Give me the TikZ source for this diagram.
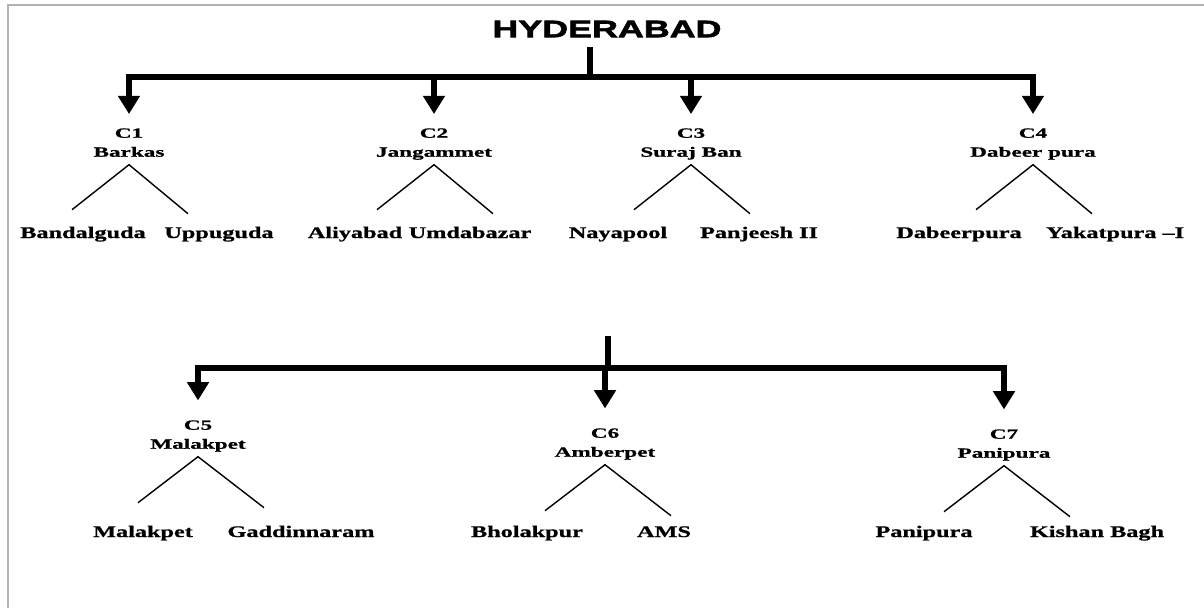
\documentclass[tikz,border=0pt]{standalone}
\usepackage{fontspec}
\usetikzlibrary{arrows.meta,positioning}
\newfontfamily\titlefont{Liberation Sans Bold}[FakeStretch=1.5,FakeBold=2.5]
\newfontfamily\headfont{Liberation Serif Bold}[FakeStretch=1.65,FakeBold=1]
\newfontfamily\leaffont{Liberation Serif Bold}[FakeStretch=1.5,FakeBold=1]
\tikzset{
  city/.style={font=\titlefont\fontsize{17}{20}\selectfont},
  circle head/.style={align=center, inner sep=2pt, text depth=3.5pt,
    font=\headfont\fontsize{10}{13.5}\selectfont},
  ward/.style={anchor=base, inner sep=1pt, font=\leaffont\fontsize{11.5}{13}\selectfont},
  bar/.style={line width=4pt},
  arr/.style={line width=4pt, line join=miter, shorten >=8pt,
    -{Triangle[width=15pt,length=13pt]}},
  twig/.style={line width=1pt}
}
\begin{document}
\begin{tikzpicture}[x=0.025cm,y=-0.025cm]
\useasboundingbox (0,0) rectangle (1204,608);
\draw[gray!60,line width=1pt] (8,608) -- (8,5) -- (1204,5);

\node[city] (hyd) at (607,29) {HYDERABAD};
\coordinate (s1) at (590,47);
\coordinate (j1) at (590,77);

\node[circle head] (c1) at (129,145) {C1\\Barkas};
\node[circle head] (c2) at (434,145) {C2\\Jangammet};
\node[circle head] (c3) at (691,145) {C3\\Suraj Ban};
\node[circle head] (c4) at (1033,145) {C4\\Dabeer pura};

\node[ward] (w1) at (83,238) {Bandalguda};
\node[ward] (w2) at (219,238) {Uppuguda};
\node[ward] (w3) at (355,238) {Aliyabad};
\node[ward] (w4) at (470,238) {Umdabazar};
\node[ward] (w5) at (618,238) {Nayapool};
\node[ward] (w6) at (759,238) {Panjeesh II};
\node[ward] (w7) at (959,238) {Dabeerpura};
\node[ward] (w8) at (1115,238) {Yakatpura –I};

\coordinate (s2) at (608,336);
\coordinate (j2) at (608,368);

\node[circle head] (c5) at (198,437) {C5\\Malakpet};
\node[circle head] (c6) at (605,445) {C6\\Amberpet};
\node[circle head] (c7) at (1004,446) {C7\\Panipura};

\node[ward] (w9) at (143,537) {Malakpet};
\node[ward] (w10) at (301,537) {Gaddinnaram};
\node[ward] (w11) at (527,537) {Bholakpur};
\node[ward] (w12) at (664,537) {AMS};
\node[ward] (w13) at (924,537) {Panipura};
\node[ward] (w14) at (1097,537) {Kishan Bagh};

\draw[bar] (s1) -- (j1);
\foreach \c in {c1,c2,c3,c4}
  \draw[arr] (j1) -| (\c.north);
\foreach \c in {c1,c2,c3,c4}
  \draw[twig] (\c.south) ++(-57,45) -- (\c.south) -- ++(59,49);

\draw[bar] (s2) -- (j2);
\foreach \c in {c5,c6,c7}
  \draw[arr,shorten >=12pt] (j2) -| (\c.north);
\foreach \c in {c5,c6,c7}
  \draw[twig] (\c.south) ++(-60,46) -- (\c.south) -- ++(66,51);
\end{tikzpicture}
\end{document}
